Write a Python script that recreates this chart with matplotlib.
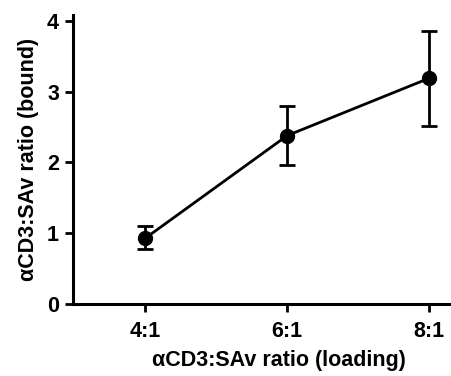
import numpy as np
import matplotlib
matplotlib.use("Agg")
from matplotlib import pyplot as plt

# data
categories = ["4:1", "6:1", "8:1"]
bound_mean = [0.93, 2.38, 3.19]
err_low = [0.77, 1.97, 2.52]
err_high = [1.10, 2.80, 3.86]

plt.rcParams['font.family'] = ['Liberation Sans', 'DejaVu Sans']
plt.rcParams['font.weight'] = 'bold'

x = np.arange(len(categories))
mean = np.array(bound_mean)
yerr = [mean - np.array(err_low), np.array(err_high) - mean]

fig = plt.figure(figsize=(4.52, 3.76), dpi=100)
ax = fig.add_axes([0.1615, 0.1915, 0.835, 0.768])

ax.errorbar(x, mean, yerr=yerr, color="black", linewidth=2, marker="o",
            markersize=10, elinewidth=2, capsize=6, capthick=2)

ax.set_xlim(-0.51, 2.15)
ax.set_ylim(0, 4.08)
ax.set_xticks(x)
ax.set_xticklabels(categories)
ax.set_yticks([0, 1, 2, 3, 4])

for side in ["top", "right"]:
    ax.spines[side].set_visible(False)
for side in ["left", "bottom"]:
    ax.spines[side].set_linewidth(2.2)

ax.tick_params(direction="out", length=6, width=2, labelsize=15.5)
ax.tick_params(axis="x", pad=6)
ax.tick_params(axis="y", pad=4)
ax.set_xlabel("αCD3:SAv ratio (loading)", fontsize=15.5, fontweight="bold", labelpad=6)
ax.xaxis.label.set_x(0.546)
ax.set_ylabel("αCD3:SAv ratio (bound)", fontsize=15.5, fontweight="bold", labelpad=6)

fig.savefig("out.png", dpi=100)
